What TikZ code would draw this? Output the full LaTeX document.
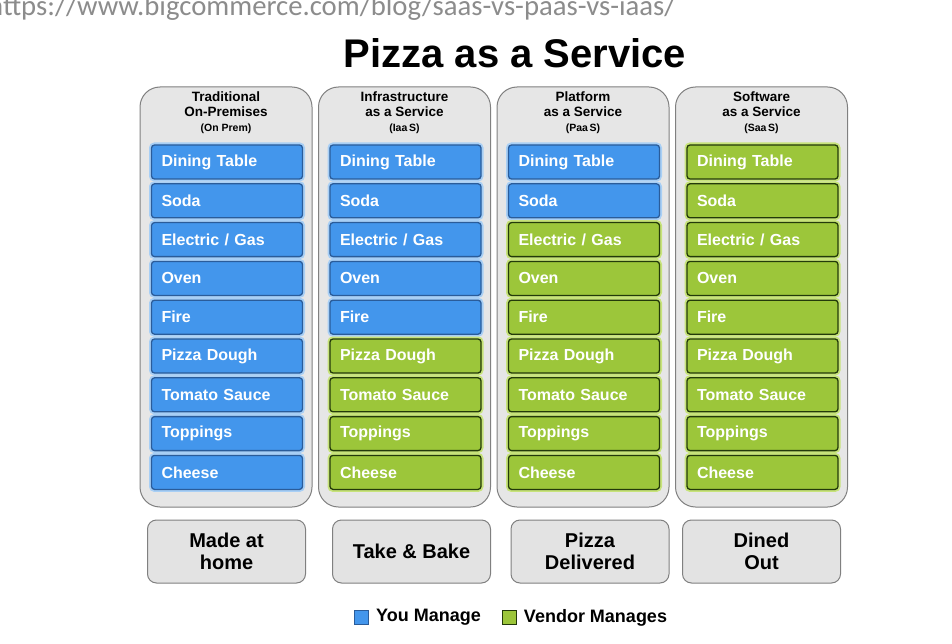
\documentclass[tikz,border=0pt]{standalone}
\usepackage{fontspec}
\setmainfont{Liberation Sans}
\newfontfamily\urlfont{Carlito}
\usepackage{xcolor}
\usepackage{tikz}
\usetikzlibrary{positioning}

\definecolor{youblue}{HTML}{4396EC}
\definecolor{youline}{HTML}{2A5C9A}
\definecolor{youhalo}{HTML}{A8CFF5}
\definecolor{vendgreen}{HTML}{9CC63A}
\definecolor{vendline}{HTML}{233A0A}
\definecolor{vendhalo}{HTML}{C7E37A}
\definecolor{colfill}{HTML}{E6E6E6}
\definecolor{colline}{HTML}{808080}
\definecolor{dishfill}{HTML}{E3E3E3}
\definecolor{urlgray}{HTML}{8C8C8C}

\newcommand{\headsub}[1]{{\fontsize{10.5}{12}\selectfont #1}}

\begin{document}
\begin{tikzpicture}[
			x=1pt, y=-1pt,
			every node/.style = {font=\bfseries},
			column/.style = {rectangle, draw=colline, fill=colfill, line width=1pt,
					rounded corners=20pt, minimum width=172pt, minimum height=420pt},
			itembox/.style = {rectangle, rounded corners=3pt, line width=1.3pt,
					minimum height=34pt, text width=131pt, inner xsep=10pt, align=left,
					text=white, font=\fontsize{16}{18}\selectfont\bfseries},
			youbox/.style = {itembox, draw=youline, fill=youblue,
					preaction={draw=youhalo, line width=5pt}},
			vendorbox/.style = {itembox, draw=vendline, fill=vendgreen,
					preaction={draw=vendhalo, line width=5pt}},
			headtext/.style = {align=center, inner sep=0pt, anchor=north,
					font=\fontsize{13.5}{15}\selectfont\bfseries},
			dishbox/.style = {rectangle, draw=colline, fill=dishfill, line width=1pt,
					rounded corners=9pt, minimum width=158pt, minimum height=63pt,
					align=center, font=\fontsize{20}{22}\selectfont\bfseries},
			keybox/.style = {rectangle, minimum size=14pt, inner sep=0pt, line width=0.8pt},
			keytext/.style = {inner sep=0pt, font=\fontsize{18}{20}\selectfont\bfseries},
		]
		% Page
		\useasboundingbox (0,0) rectangle (952,644);
		\clip (0,0) rectangle (952,644);
		\fill[white] (0,0) rectangle (952,644);

		% Source and title
		\node [anchor=base west, inner sep=0pt, text=urlgray,
			font=\urlfont\fontsize{28.7}{30}\selectfont] (url) at (-12,16)
			{https://www.bigcommerce.com/blog/saas-vs-paas-vs-iaas/};
		\node [anchor=base, font=\fontsize{40}{42}\selectfont\bfseries] (title) at (515,68)
			{Pizza as a Service};

		% Columns with their layers
		\foreach \n/\cx/\nblue/\head in {
				1/226/9/{Traditional\\On-Premises\\\headsub{(On Prem)}},
				2/404.5/5/{Infrastructure\\as a Service\\\headsub{(Iaa\,S)}},
				3/583/2/{Platform\\as a Service\\\headsub{(Paa\,S)}},
				4/761.5/0/{Software\\as a Service\\\headsub{(Saa\,S)}}} {
			\node [column] (c\n) at (\cx,297) {};
			\node [headtext] (head\n) at (\cx,92) {\head};
			\foreach \food [count=\k] in {Dining Table, Soda, Electric / Gas, Oven, Fire,
					Pizza Dough, Tomato Sauce, Toppings, Cheese} {
				\pgfmathsetmacro{\y}{162+38.8*(\k-1)}
				\ifnum\k>\nblue
					\node [vendorbox] (c\n-\k) at (\cx+1,\y) {\food};
				\else
					\node [youbox] (c\n-\k) at (\cx+1,\y) {\food};
				\fi
			}
		}

		% What it amounts to
		\foreach \n/\dx/\dish in {1/226.5/{Made at\\home}, 2/411.5/{Take \& Bake},
				3/590/{Pizza\\Delivered}, 4/761.5/{Dined\\Out}} {
			\node [dishbox] (dish\n) at (\dx,551.5) {\dish};
		}

		% Legend
		\node [keybox, fill=youblue, draw=youline] (youkey) at (361.5,617.5) {};
		\node [keytext, right=7pt of youkey] (youtext) {You Manage};
		\node [keybox, fill=vendgreen, draw=vendline, right=21pt of youtext] (vendkey) {};
		\node [keytext, right=7pt of vendkey] (vendtext) {Vendor Manages};

	\end{tikzpicture}
\end{document}
